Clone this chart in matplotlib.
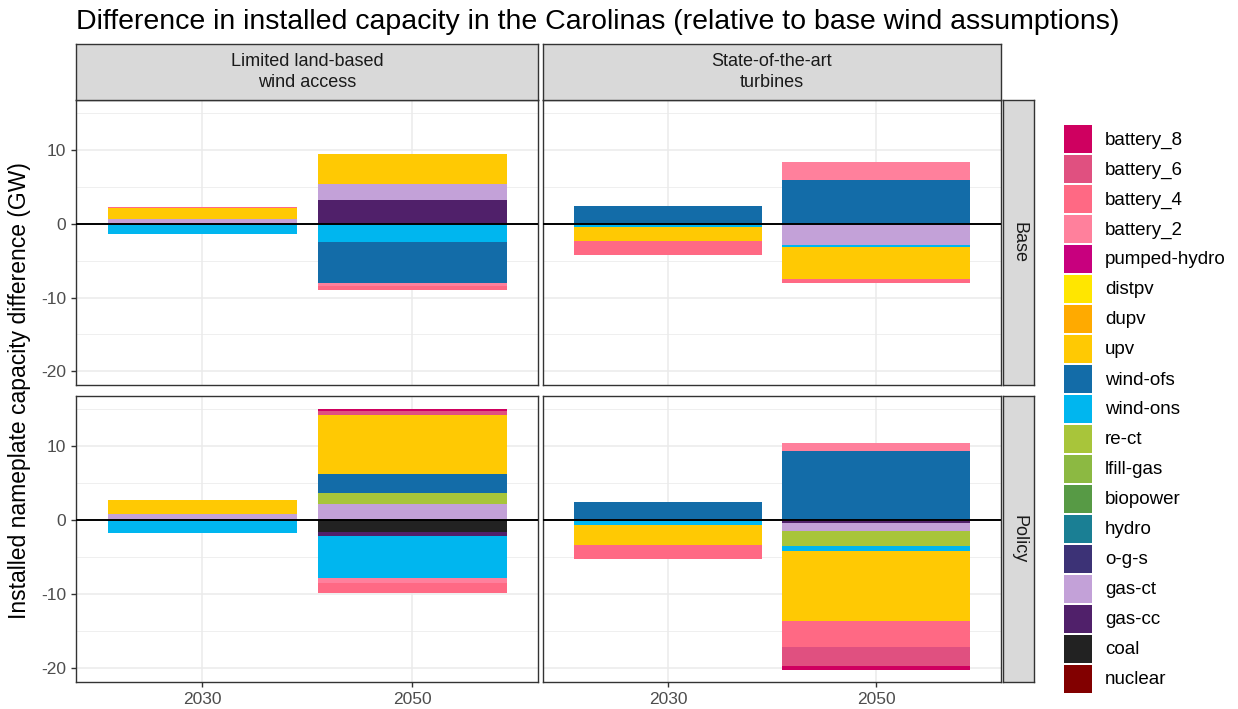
import matplotlib
matplotlib.use("Agg")
import matplotlib.pyplot as plt
from matplotlib.patches import Rectangle

plt.rcParams["font.family"] = ["Liberation Sans", "DejaVu Sans"]

# technologies, legend order (top to bottom)
techs = ["battery_8", "battery_6", "battery_4", "battery_2", "pumped-hydro",
         "distpv", "dupv", "upv", "wind-ofs", "wind-ons", "re-ct", "lfill-gas",
         "biopower", "hydro", "o-g-s", "gas-ct", "gas-cc", "coal", "nuclear"]
tech_colors = ["#cf0060", "#e05080", "#ff6984", "#ff809c", "#c8007e",
               "#ffe600", "#ffaa00", "#ffc903", "#136ca8", "#00b6ef", "#a8c53a",
               "#8cb942", "#579a45", "#1a7f94", "#3c3276", "#c3a1d8", "#50206a",
               "#222222", "#820000"]

years = ["2030", "2050"]
cases = ["Limited land-based\nwind access", "State-of-the-art\nturbines"]
scenarios = ["Base", "Policy"]

# capacity difference (GW) by technology
limited_base_2030 = {"battery_4": 0.12, "upv": 1.53, "gas-ct": 0.63, "wind-ons": -1.35}
limited_base_2050 = {"upv": 4.05, "gas-ct": 2.16, "gas-cc": 3.24, "wind-ons": -2.43,
                     "wind-ofs": -5.59, "battery_2": -0.36, "battery_4": -0.54}
sota_base_2030 = {"wind-ofs": 2.43, "wind-ons": -0.4, "upv": -1.89, "battery_4": -1.89}
sota_base_2050 = {"battery_2": 2.43, "wind-ofs": 5.95, "gas-ct": -2.84, "wind-ons": -0.27,
                  "upv": -4.32, "battery_4": -0.63}
limited_policy_2030 = {"upv": 1.89, "gas-ct": 0.81, "wind-ons": -1.76}
limited_policy_2050 = {"battery_8": 0.27, "battery_6": 0.54, "upv": 7.97, "wind-ofs": 2.57,
                       "re-ct": 1.49, "gas-ct": 2.16, "coal": -1.62, "gas-cc": -0.54,
                       "wind-ons": -5.68, "battery_2": -0.68, "battery_4": -1.35}
sota_policy_2030 = {"wind-ofs": 2.3, "gas-ct": 0.2, "wind-ons": -0.65, "upv": -2.7,
                    "battery_4": -1.89}
sota_policy_2050 = {"battery_2": 1.08, "wind-ofs": 9.32, "gas-cc": -0.3, "gas-ct": -1.17,
                    "re-ct": -1.98, "wind-ons": -0.68, "upv": -9.46, "battery_4": -3.51,
                    "battery_6": -2.57, "battery_8": -0.54}

panels = {
    ("Base", 0): [limited_base_2030, limited_base_2050],
    ("Base", 1): [sota_base_2030, sota_base_2050],
    ("Policy", 0): [limited_policy_2030, limited_policy_2050],
    ("Policy", 1): [sota_policy_2030, sota_policy_2050],
}

W, H = 1238, 709
fig = plt.figure(figsize=(W / 100, H / 100), dpi=100)


def box(x0, y0, x1, y1):
    # pixel box (top-left origin) -> figure fraction rect
    return [x0 / W, 1 - y1 / H, (x1 - x0) / W, (y1 - y0) / H]


col_x = [(76, 538), (543, 1001)]
row_y = [(100, 385), (396, 682)]
strip_top = (44, 100)
strip_right = (1003, 1034)
edge = "#333333"

for r, scen in enumerate(scenarios):
    for c in range(2):
        x0, x1 = col_x[c]
        y0, y1 = row_y[r]
        ax = fig.add_axes(box(x0, y0, x1, y1))
        for i, data in enumerate(panels[(scen, c)]):
            pos, neg = 0.0, 0.0
            # stack outward from zero, starting with the bottom legend entry
            for t, col in zip(techs[::-1], tech_colors[::-1]):
                v = data.get(t, 0.0)
                if v > 0:
                    ax.bar(i + 1, v, bottom=pos, width=0.9, color=col, lw=0, zorder=2)
                    pos += v
                elif v < 0:
                    ax.bar(i + 1, v, bottom=neg, width=0.9, color=col, lw=0, zorder=2)
                    neg += v
        ax.axhline(0, color="black", lw=1.4, zorder=3)
        ax.set_xlim(0.4, 2.6)
        ax.set_ylim(-21.85, 16.8)
        ax.set_xticks([1, 2])
        ax.set_yticks([-20, -10, 0, 10])
        ax.set_yticks([-15, -5, 5, 15], minor=True)
        ax.grid(True, which="major", color="#ebebeb", lw=1.1, zorder=0)
        ax.grid(True, which="minor", axis="y", color="#ebebeb", lw=0.55, zorder=0)
        ax.set_axisbelow(True)
        for s in ax.spines.values():
            s.set_color(edge)
            s.set_linewidth(1.0)
        ax.tick_params(which="minor", length=0)
        ax.tick_params(which="major", color=edge, length=3.5, width=1.0,
                       labelsize=12.5, labelcolor="#4d4d4d")
        if r == 1:
            ax.set_xticklabels(years)
        else:
            ax.set_xticklabels([])
            ax.tick_params(axis="x", length=0)
        if c == 0:
            ax.set_yticklabels(["-20", "-10", "0", "10"])
        else:
            ax.set_yticklabels([])
            ax.tick_params(axis="y", length=0)

# top strips
for c, label in enumerate(cases):
    x0, x1 = col_x[c]
    sax = fig.add_axes(box(x0, strip_top[0], x1, strip_top[1]))
    sax.set_facecolor("#d9d9d9")
    sax.set_xticks([])
    sax.set_yticks([])
    for s in sax.spines.values():
        s.set_color(edge)
        s.set_linewidth(1.0)
    sax.text(0.5, 0.5, label, ha="center", va="center", fontsize=13,
             color="#1a1a1a", linespacing=1.3, transform=sax.transAxes)

# right strips
for r, label in enumerate(scenarios):
    y0, y1 = row_y[r]
    sax = fig.add_axes(box(strip_right[0], y0, strip_right[1], y1))
    sax.set_facecolor("#d9d9d9")
    sax.set_xticks([])
    sax.set_yticks([])
    for s in sax.spines.values():
        s.set_color(edge)
        s.set_linewidth(1.0)
    sax.text(0.5, 0.5, label, ha="center", va="center", fontsize=13,
             color="#1a1a1a", rotation=-90, transform=sax.transAxes)

fig.text(76 / W, 1 - 22 / H,
         "Difference in installed capacity in the Carolinas (relative to base wind assumptions)",
         ha="left", va="center", fontsize=20.5, color="black")
fig.text(20 / W, 1 - 391 / H, "Installed nameplate capacity difference (GW)",
         ha="center", va="center", rotation=90, fontsize=16.5, color="black")

# legend
for k, (t, col) in enumerate(zip(techs, tech_colors)):
    ytop = 125 + 30 * k
    fig.patches.append(Rectangle((1064 / W, 1 - (ytop + 28) / H), 28 / W, 28 / H,
                                 transform=fig.transFigure, facecolor=col,
                                 edgecolor="none"))
    fig.text(1105 / W, 1 - (ytop + 15) / H, t, ha="left", va="center",
             fontsize=13.5, color="black")

fig.savefig("out.png", dpi=100)
